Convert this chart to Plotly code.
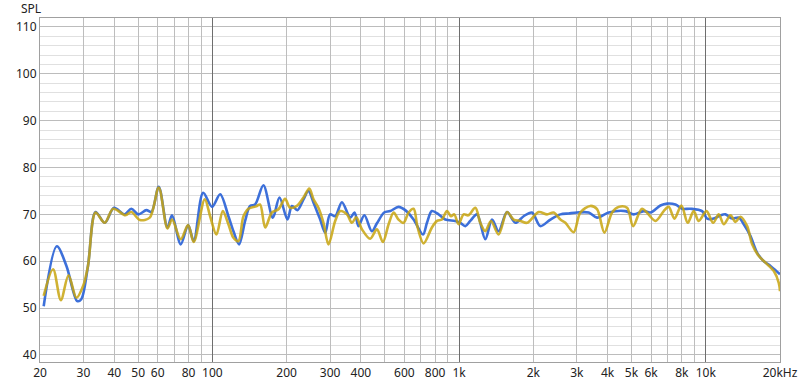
import plotly.graph_objects as go

# Blue measurement
blue_freq = [20.7, 23.4, 25.6, 28.3, 29.4, 31.3, 33.6, 36.6, 39.9, 44.1, 46.9, 50.0, 54.0, 56.6, 60.6,
             65.7, 68.6, 74.4, 79.7, 84.0, 91.7, 99.7, 107.5, 116.1, 121.7, 128.3, 135.7, 142.2, 149,
             161, 175.8, 187, 201.5, 210, 221, 234, 245, 257, 273.5, 286.6, 300, 314.6, 335, 362, 377,
             391, 413, 443, 464.5, 497, 526, 568, 605, 654, 714, 741, 776, 826, 879, 965, 1011, 1060,
             1110, 1182, 1277, 1360, 1446, 1565, 1691, 1827, 1975, 2135, 2345, 2575, 2781, 3008, 3353,
             3625, 4042, 4724, 5106, 5605, 5965, 6550, 6973, 7534, 8017, 8670, 9667, 10135, 10775,
             11470, 12020, 12800, 13610, 14260, 15170, 16160, 17190, 18300, 19170, 20000]
blue_spl = [50.4, 63.2, 59.0, 51.5, 51.9, 59.0, 70.5, 68.2, 71.4, 70.0, 71.2, 70.0, 70.9, 70.5, 75.9,
            67.2, 69.8, 63.6, 67.7, 64.3, 74.6, 71.6, 74.3, 69.6, 66.4, 63.6, 68.6, 71.8, 72.1,
            76.2, 69.3, 73.6, 68.9, 71.8, 70.9, 73.2, 75.0, 72.5, 68.9, 66.1, 70.0, 69.6, 72.6, 69.3, 70.4,
            67.5, 69.8, 66.4, 68.1, 70.4, 70.7, 71.6, 70.9, 68.9, 65.7, 68.2, 70.7, 70.0, 68.9, 68.6, 68.2, 67.5,
            68.6, 70.0, 64.7, 68.9, 66.4, 70.5, 68.2, 69.6, 70.4, 67.5, 68.9, 70.0, 70.2, 70.4, 70.4,
            69.3, 70.4, 70.7, 70.0, 70.7, 70.4, 71.9, 72.3, 72.1, 71.2, 71.2, 70.7, 69.1, 69.1,
            69.8, 70.0, 69.1, 69.3, 67.9, 65.4, 61.8, 60.0, 59.0, 58.1, 57.2]

# Gold measurement
gold_freq = [20.7, 22.6, 24.3, 26.1, 28.1, 29.9, 31.3, 33.6, 36.6, 39.6, 44.4, 46.9, 50.8, 55.7, 60.6,
             65.7, 68.6, 74.4, 79.7, 84.0, 93.1, 97.9, 103.8, 110.2, 116.1, 121.7, 127.5, 133.6, 140,
             150.4, 156, 163.7, 174.2, 185.3, 197, 206.6, 220, 234, 247, 257, 269, 282, 295.6, 314.6,
             330, 351, 368, 383, 404, 436, 464.5, 491, 518, 543, 568, 595.6, 624, 654, 679, 718, 776,
             814, 852, 893, 927, 956, 995, 1043, 1090, 1164, 1219, 1277, 1347, 1446, 1565, 1664, 1771,
             1886, 2103, 2272, 2418, 2575, 2697, 2914, 3102, 3405, 3625, 3882, 4172, 4438, 4798, 5077,
             5521, 6253, 6755, 7078, 7465, 7965, 8453, 8935, 9368, 10070, 10716, 11290, 11830, 12600,
             13200, 13830, 14720, 15420, 16410, 17470, 18880, 19770, 20000]
gold_spl = [52.6, 58.3, 51.7, 57.0, 52.2, 54.7, 59.0, 70.4, 68.2, 71.2, 69.8, 70.5, 68.8, 69.3, 75.7,
            67.0, 68.9, 64.7, 67.7, 64.1, 73.2, 69.6, 65.7, 70.7, 67.9, 65.0, 64.3, 69.6, 71.2,
            71.7, 72.1, 67.2, 70.4, 71.1, 73.3, 71.4, 71.8, 73.6, 75.5, 73.2, 71.4, 68.2, 63.6, 68.6,
            70.7, 70.0, 68.2, 69.4, 66.8, 64.8, 66.8, 64.1, 67.9, 70.4, 68.9, 68.2, 70.4, 71.2, 67.2, 63.8, 67.2,
            68.6, 68.9, 70.7, 69.6, 70.0, 67.9, 70.0, 69.8, 71.4, 68.2, 66.4, 68.6, 65.7, 70.5, 68.9, 68.6,
            68.2, 70.5, 70.0, 70.4, 68.9, 68.2, 66.2, 70.4, 71.8, 71.1, 66.1, 70.4, 71.6, 71.4, 67.5,
            71.2, 68.6, 70.7, 71.6, 69.1, 71.9, 68.2, 70.7, 68.6, 70.7, 68.2, 70.0, 67.9, 69.8,
            68.4, 69.5, 67.5, 63.6, 61.1, 59.7, 57.9, 55.4, 53.6]

x_tick_vals = [20, 30, 40, 50, 60, 70, 80, 90, 100, 200, 300, 400, 500, 600, 700, 800, 900, 1000,
               2000, 3000, 4000, 5000, 6000, 7000, 8000, 9000, 10000, 20000]
x_tick_text = ["20", "30", "40", "50", "60", "", "80", "", "100", "200", "300", "400", "", "600", "",
               "800", "", "1k", "2k", "3k", "4k", "5k", "6k", "", "8k", "", "10k", "20kHz"]
decade_vals = [100, 1000, 10000]
y_tick_vals = [40, 50, 60, 70, 80, 90, 100, 110]

FONT = "Noto Sans, Open Sans, sans-serif"

fig = go.Figure()
fig.add_trace(go.Scatter(x=blue_freq, y=blue_spl, mode="lines", line_shape="spline",
                         line=dict(color="rgba(45,100,215,0.92)", width=2.6, smoothing=0.9),
                         showlegend=False, hoverinfo="skip"))
fig.add_trace(go.Scatter(x=gold_freq, y=gold_spl, mode="lines", line_shape="spline",
                         line=dict(color="rgba(200,165,15,0.85)", width=2.6, smoothing=0.9),
                         showlegend=False, hoverinfo="skip"))
# invisible trace to host the decade grid axis
fig.add_trace(go.Scatter(x=blue_freq, y=blue_spl, mode="lines", xaxis="x2",
                         line=dict(color="rgba(0,0,0,0)", width=0),
                         showlegend=False, hoverinfo="skip"))

x_range = [1.30103, 4.30103]
fig.update_layout(
    width=800, height=387,
    margin=dict(l=40, r=20, t=18, b=25, autoexpand=False),
    paper_bgcolor="white", plot_bgcolor="white",
    font=dict(family=FONT, size=12, color="#222222"),
    xaxis=dict(type="log", range=x_range, tickvals=x_tick_vals, ticktext=x_tick_text,
               showgrid=True, gridcolor="#bdbdbd", gridwidth=1, ticks="", ticklen=0,
               showline=True, linecolor="#a0a0a0", linewidth=1, mirror=True, automargin=False,
               zeroline=False, tickfont=dict(size=12, color="#222222")),
    xaxis2=dict(type="log", range=x_range, overlaying="x", tickvals=decade_vals,
                showticklabels=False, showgrid=True, gridcolor="#6e6e6e", gridwidth=1,
                ticks="", zeroline=False, showline=False, automargin=False),
    yaxis=dict(range=[38.5, 111.9], tickvals=y_tick_vals, showgrid=True,
               gridcolor="#bcbcbc", gridwidth=1, ticks="", ticklen=0, automargin=False,
               minor=dict(dtick=2, tick0=0, showgrid=True, gridcolor="#e0e0e0", gridwidth=1),
               showline=True, linecolor="#a0a0a0", linewidth=1, mirror=True,
               zeroline=False, tickfont=dict(size=12, color="#222222")),
    annotations=[dict(text="SPL", xref="paper", yref="paper", x=-0.029, y=1.027,
                      xanchor="left", yanchor="middle", showarrow=False,
                      font=dict(family=FONT, size=12, color="#222222"))],
)

fig.write_html("out.html", config={"displayModeBar": False},
               post_script="document.body.style.margin='0';")
